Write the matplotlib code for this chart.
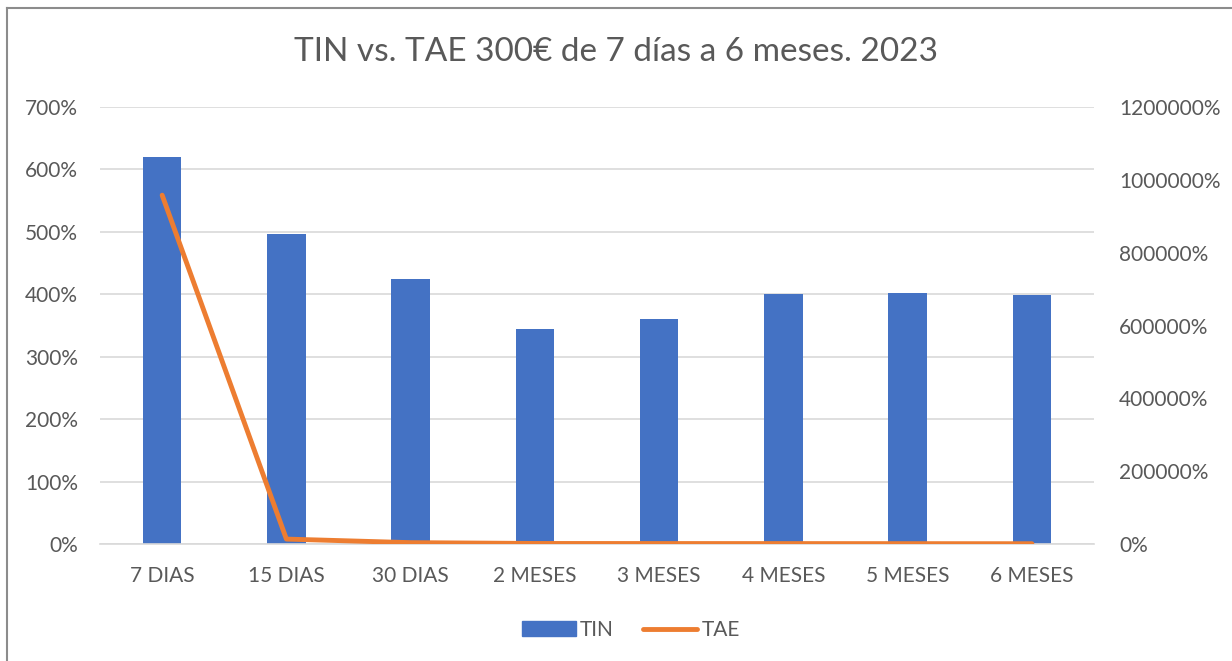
import matplotlib
matplotlib.use("Agg")
import matplotlib.pyplot as plt
from matplotlib.lines import Line2D
from matplotlib.ticker import FuncFormatter, MultipleLocator
import numpy as np

# datos
plazos = ["7 DIAS", "15 DIAS", "30 DIAS", "2 MESES", "3 MESES", "4 MESES", "5 MESES", "6 MESES"]
tin = [620, 496, 425, 345, 361, 401, 402, 399]          # en %
tae = [958000, 13500, 3700, 1500, 1300, 1200, 1000, 800]  # en %

BLUE = "#4472C4"
ORANGE = "#ED7D31"
GREY = "#595959"
GRID = "#D9D9D9"

plt.rcParams['font.family'] = ['Lato', 'DejaVu Sans']

fig = plt.figure(figsize=(12.32, 6.61), dpi=100)
ax = fig.add_axes([0.0812, 0.177, 0.8068, 0.661])
ax2 = ax.twinx()

x = np.arange(len(plazos))
ax.bar(x, tin, width=0.31, color=BLUE, zorder=2)
ax2.plot(x, tae, color=ORANGE, lw=3.5, solid_capstyle='round', solid_joinstyle='round', zorder=3)

ax.set_xlim(-0.5, len(plazos) - 0.5)
ax.set_ylim(0, 700)
ax2.set_ylim(0, 1200000)
ax.yaxis.set_major_locator(MultipleLocator(100))
ax2.yaxis.set_major_locator(MultipleLocator(200000))
pct = FuncFormatter(lambda v, p: "%d%%" % round(v))
ax.yaxis.set_major_formatter(pct)
ax2.yaxis.set_major_formatter(pct)

ax.set_xticks(x)
ax.set_xticklabels(plazos)
ax.grid(axis='y', color=GRID, lw=1.2, zorder=0)
ax.set_axisbelow(True)

for a in (ax, ax2):
    for s in a.spines.values():
        s.set_visible(False)
    a.tick_params(length=0, labelsize=15, labelcolor=GREY)
ax.spines['bottom'].set_visible(True)
ax.spines['bottom'].set_color(GRID)
ax.spines['bottom'].set_linewidth(1.2)
ax.tick_params(axis='x', pad=16)
ax.tick_params(axis='y', pad=16)
ax2.tick_params(axis='y', pad=18)

fig.text(0.5, 0.922, "TIN vs. TAE 300€ de 7 días a 6 meses. 2023", ha='center', va='center',
         fontsize=24, color=GREY)

handles = [plt.Rectangle((0, 0), 1, 1, color=BLUE),
           Line2D([0], [0], color=ORANGE, lw=3.5, solid_capstyle='round')]
fig.legend(handles, ["TIN", "TAE"], loc='center', bbox_to_anchor=(0.512, 0.047), ncol=2,
           frameon=False, fontsize=15, labelcolor=GREY, handlelength=2.6, handletextpad=0.2,
           columnspacing=1.4)

# marco del grafico
fig.add_artist(Line2D([7 / 1232, 7 / 1232], [0, 1 - 8 / 661], transform=fig.transFigure,
                      color="#8C8C8C", lw=1.5))
fig.add_artist(Line2D([7 / 1232, 1], [1 - 8 / 661, 1 - 8 / 661], transform=fig.transFigure,
                      color="#8C8C8C", lw=1.5))

fig.savefig("out.png", dpi=100, facecolor='white')
